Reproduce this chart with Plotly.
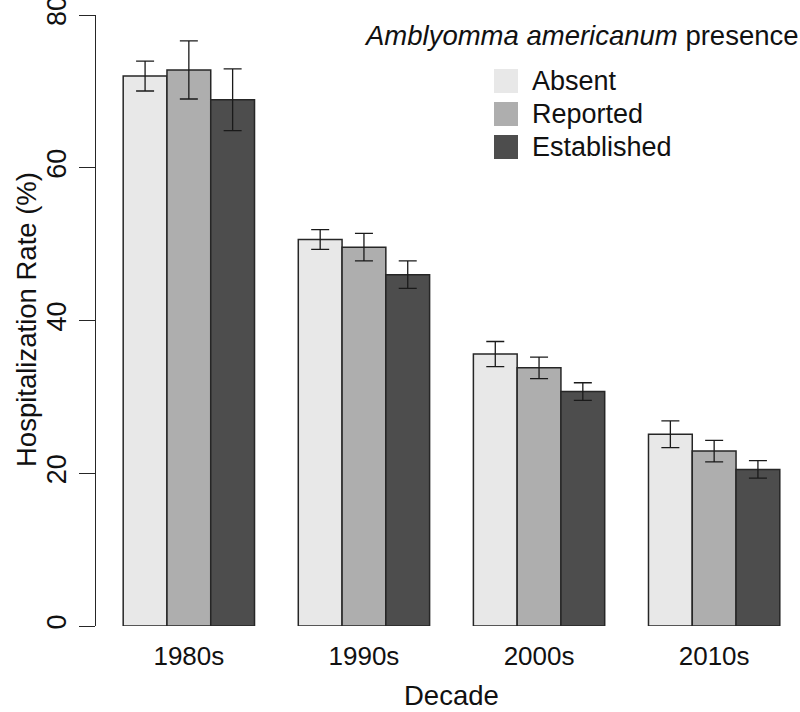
import plotly.graph_objects as go

# ---- data ----
decades = ["1980s", "1990s", "2000s", "2010s"]
series_names = ["Absent", "Reported", "Established"]
absent = [72.0, 50.6, 35.6, 25.1]
absent_err = [1.95, 1.3, 1.65, 1.75]
reported = [72.8, 49.6, 33.8, 22.9]
reported_err = [3.8, 1.8, 1.4, 1.4]
established = [68.9, 46.0, 30.7, 20.5]
established_err = [4.05, 1.8, 1.15, 1.15]
y_ticks = [0, 20, 40, 60, 80]

values = [absent, reported, established]
errors = [absent_err, reported_err, established_err]
colors = ["#E8E8E8", "#AEAEAE", "#4D4D4D"]

FONT = "Liberation Sans, Arial, Helvetica, sans-serif"
FS_TICK = 26
FS_TITLE = 27.5
FS_LEG = 27

W, H = 800, 712
ML, MR, MT, MB = 96, 0, 15, 86
PW = W - ML - MR
PH = H - MT - MB


def px_x(px):
    return (px - ML) / PW


def px_y(py):
    return (H - MB - py) / PH


fig = go.Figure()
for name, vals, errs, col in zip(series_names, values, errors, colors):
    fig.add_trace(go.Bar(
        x=decades, y=vals, name=name,
        marker=dict(color=col, line=dict(color="#262626", width=1.5)),
        error_y=dict(type="data", array=errs, visible=True,
                     color="#1a1a1a", thickness=1.3, width=9),
        showlegend=False,
    ))

fig.update_layout(
    width=W, height=H,
    margin=dict(l=ML, r=MR, t=MT, b=MB, autoexpand=False),
    paper_bgcolor="white", plot_bgcolor="white",
    barmode="group", bargap=0.25, bargroupgap=0,
    font=dict(family=FONT, size=FS_TICK, color="#111111"),
    xaxis=dict(
        type="category", range=[-0.5303, 3.4903],
        showline=False, showgrid=False, zeroline=False,
        ticks="", tickfont=dict(size=FS_TICK), ticklabelstandoff=12,
    ),
    yaxis=dict(
        range=[0, 80], tickvals=y_ticks, ticktext=[str(v) for v in y_ticks],
        showline=True, linecolor="#262626", linewidth=1.3,
        ticks="outside", ticklen=16, tickwidth=1.3, tickcolor="#262626",
        tickangle=-90, tickfont=dict(size=27), ticklabelstandoff=2,
        ticklabeloverflow="allow",
        showgrid=False, zeroline=False,
    ),
)

annotations = []
# axis titles
annotations.append(dict(
    text="Hospitalization Rate (%)", xref="paper", yref="paper",
    x=px_x(26), y=px_y(320), xanchor="center", yanchor="middle",
    textangle=-90, showarrow=False, font=dict(size=FS_TITLE),
))
annotations.append(dict(
    text="Decade", xref="x", yref="paper",
    x=1.5, y=px_y(695), xanchor="center", yanchor="middle",
    showarrow=False, font=dict(size=FS_TITLE),
))
# legend title
annotations.append(dict(
    text="<i>Amblyomma americanum</i> presence", xref="paper", yref="paper",
    x=px_x(581), y=px_y(35), xanchor="center", yanchor="middle",
    showarrow=False, font=dict(size=FS_TITLE),
))

shapes = []
sw_top = [69, 102, 135]
for name, col, top in zip(series_names, colors, sw_top):
    shapes.append(dict(
        type="rect", xref="paper", yref="paper",
        x0=px_x(494), x1=px_x(518), y0=px_y(top + 24), y1=px_y(top),
        fillcolor=col, line=dict(width=0),
    ))
    annotations.append(dict(
        text=name, xref="paper", yref="paper",
        x=px_x(530), y=px_y(top + 12), xanchor="left", yanchor="middle",
        showarrow=False, font=dict(size=FS_LEG),
    ))

fig.update_layout(annotations=annotations, shapes=shapes)

fig.write_html(
    "out.html",
    config={"displayModeBar": False},
    post_script="document.body.style.margin='0px';",
)
